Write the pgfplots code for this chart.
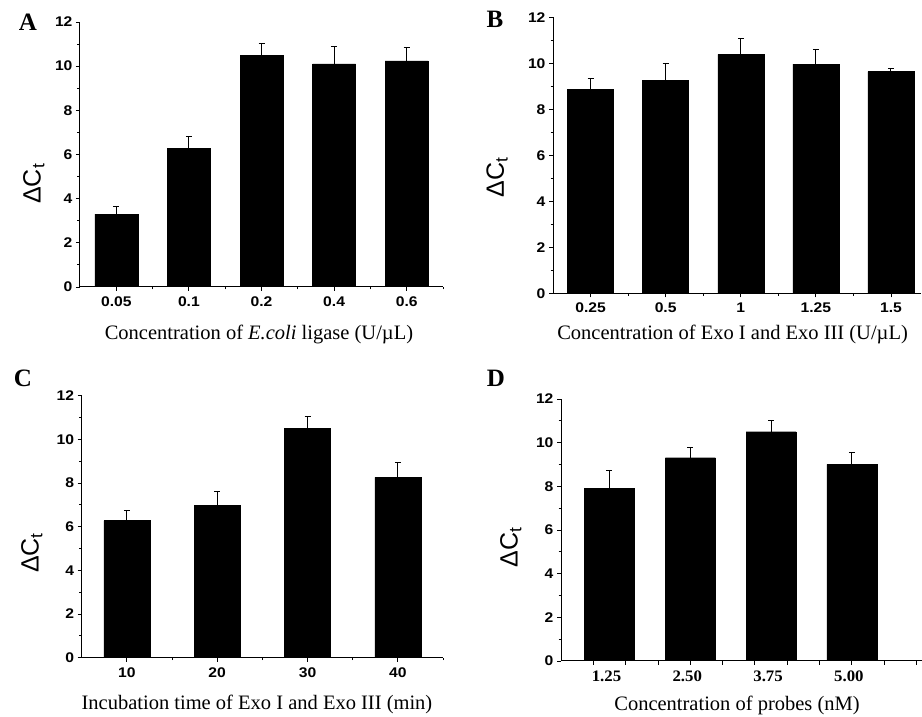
\documentclass[border=0pt]{standalone}
\usepackage{fontspec}
\setmainfont{Liberation Serif}
\setsansfont{Liberation Sans}
\newfontfamily\ticksf[FakeStretch=1.12]{Liberation Sans}
\newfontfamily\tickrm[FakeStretch=1.05]{Liberation Serif}
\usepackage{pgfplots}
\pgfplotsset{compat=1.18}
\pgfplotsset{
 panel/.style={
  scale only axis, axis x line=bottom, axis y line=left,
  axis line style={-, line width=1pt},
  ymin=0, ymax=12, ytick={0,2,...,12}, minor y tick num=1,
  tick align=outside, major tick length=4pt, minor tick length=2.5pt,
  every tick/.style={black, line width=0.9pt},
  enlargelimits=false,
  /pgf/number format/assume math mode=true,
  yticklabel style={font=\fontsize{14}{16}\ticksf\bfseries\selectfont},
  xticklabel style={font=\fontsize{14}{16}\ticksf\bfseries\selectfont, yshift=-2pt},
  xlabel style={font=\fontsize{20.5}{23}\selectfont, anchor=center},
  ylabel style={font=\fontsize{25}{28}\sffamily\selectfont, anchor=center},
  ybar, bar shift=0pt,
  error bars/y dir=plus, error bars/y explicit,
  error bars/error bar style={line width=1pt, black},
  error bars/error mark options={rotate=90, mark size=3pt, line width=1pt, black},
 }
}
\begin{document}
\begin{tikzpicture}[x=1pt,y=1pt]
\useasboundingbox (0,0) rectangle (922,717);
% Panel A
\begin{axis}[panel, at={(80pt,430pt)}, anchor=south west, width=363pt, height=265pt,
  xmin=-0.5, xmax=4.5, xtick={0,1,2,3,4}, xticklabels={0.05,0.1,0.2,0.4,0.6},
  minor xtick={0.5,1.5,2.5,3.5,4.5},
  xlabel={Concentration of \textit{E.coli} ligase (U/\textmu L)},
  xlabel style={at={(axis description cs:0.493,0)}, yshift=-48pt},
  ylabel={ΔC\textsubscript{t}},
  ylabel style={at={(axis description cs:-0.127,0.39)}}]
\addplot[fill=black, draw=black, bar width=43pt] coordinates {
 (0,3.30) +- (0,0.35)
 (1,6.28) +- (0,0.52)
 (2,10.48) +- (0,0.55)
 (3,10.10) +- (0,0.77)
 (4,10.24) +- (0,0.60)
};
\end{axis}
% Panel B
\begin{axis}[panel, at={(553pt,423.7pt)}, anchor=south west, width=368pt, height=276pt,
  xmin=-0.5, xmax=4.4, xtick={0,1,2,3,4}, xticklabels={0.25,0.5,1,1.25,1.5},
  minor xtick={0.5,1.5,2.5,3.5},
  xlabel={Concentration of Exo I and Exo III (U/\textmu L)},
  xlabel style={at={(axis description cs:0.488,0)}, yshift=-41pt},
  ylabel={ΔC\textsubscript{t}},
  ylabel style={at={(axis description cs:-0.152,0.42)}}]
\addplot[fill=black, draw=black, bar width=46pt] coordinates {
 (0,8.87) +- (0,0.45)
 (1,9.27) +- (0,0.70)
 (2,10.39) +- (0,0.67)
 (3,9.96) +- (0,0.62)
 (4,9.64) +- (0,0.14)
};
\end{axis}
% Panel C
\begin{axis}[panel, at={(81.7pt,59.3pt)}, anchor=south west, width=361.3pt, height=262pt,
  xmin=-0.5, xmax=3.5, xtick={0,1,2,3}, xticklabels={10,20,30,40},
  minor xtick={0.5,1.5,2.5,3.5},
  xlabel={Incubation time of Exo I and Exo III (min)},
  xlabel style={at={(axis description cs:0.485,0)}, yshift=-47pt},
  ylabel={ΔC\textsubscript{t}},
  ylabel style={at={(axis description cs:-0.138,0.40)}}]
\addplot[fill=black, draw=black, bar width=46pt] coordinates {
 (0,6.28) +- (0,0.45)
 (1,6.98) +- (0,0.62)
 (2,10.49) +- (0,0.55)
 (3,8.26) +- (0,0.70)
};
\end{axis}
% Panel D
\begin{axis}[panel, at={(561pt,56pt)}, anchor=south west, width=360.7pt, height=262pt,
  xmin=0.5, xmax=6.08, xtick={1,1.5,...,6}, xticklabels={},
  extra x ticks={1.25,2.5,3.75,5}, extra x tick labels={1.25,2.50,3.75,5.00},
  extra x tick style={major tick length=0pt,
    xticklabel style={font=\fontsize{16}{18}\tickrm\bfseries\selectfont, yshift=-4pt, xshift=-3pt}},
  xlabel={Concentration of probes (nM)},
  xlabel style={at={(axis description cs:0.488,0)}, yshift=-44pt},
  ylabel={ΔC\textsubscript{t}},
  ylabel style={at={(axis description cs:-0.139,0.435)}}]
\addplot[fill=black, draw=black, bar width=50pt] coordinates {
 (1.25,7.92) +- (0,0.80)
 (2.5,9.31) +- (0,0.48)
 (3.75,10.50) +- (0,0.52)
 (5,9.01) +- (0,0.55)
};
\end{axis}
\node[font=\fontsize{25}{27}\bfseries\selectfont] at (28,695) {A};
\node[font=\fontsize{25}{27}\bfseries\selectfont] at (495,698) {B};
\node[font=\fontsize{25}{27}\bfseries\selectfont] at (23,339) {C};
\node[font=\fontsize{25}{27}\bfseries\selectfont] at (496,339) {D};
\end{tikzpicture}
\end{document}
